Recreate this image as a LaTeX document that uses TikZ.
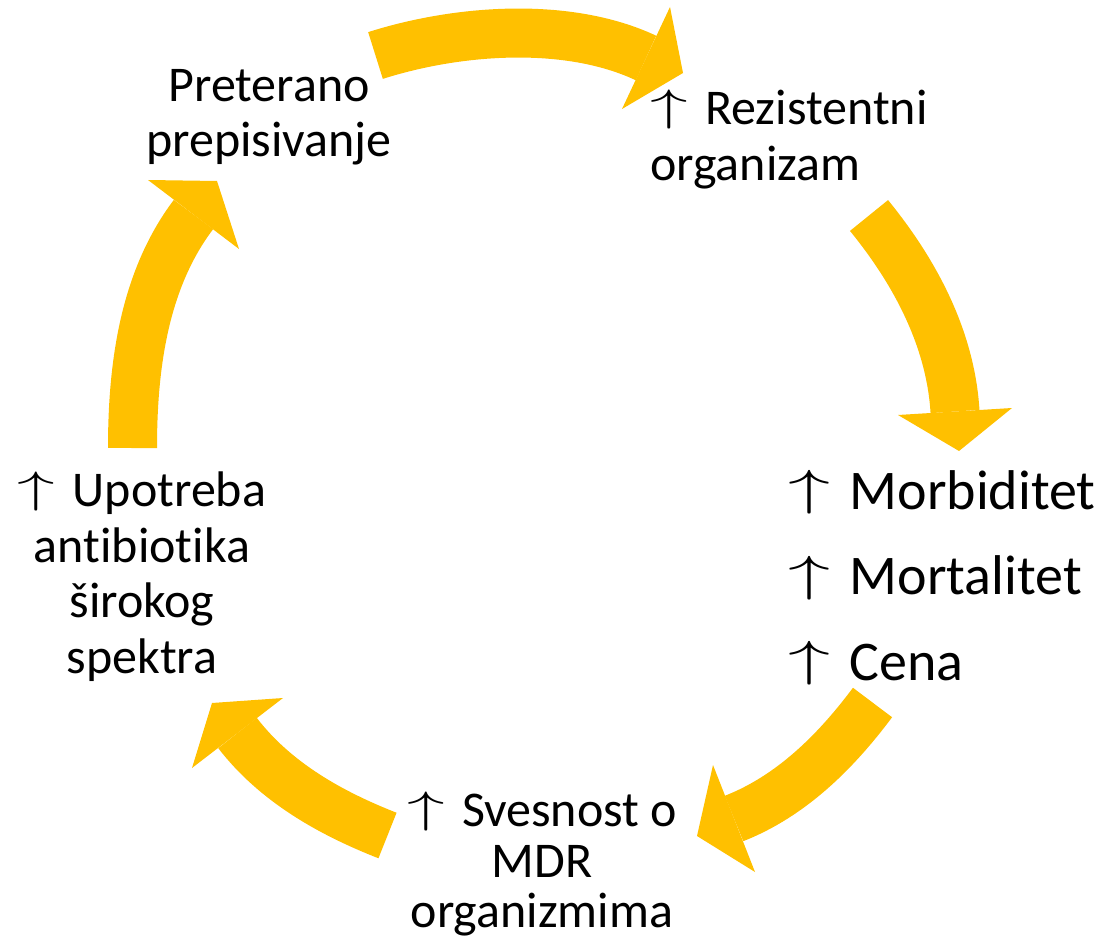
\RequirePackage{fix-cm}
\documentclass[tikz,border=0pt]{standalone}
\usepackage{graphicx}
\usepackage{fontspec}
\setmainfont{Carlito}[Ligatures=NoCommon]
\definecolor{zuta}{RGB}{255,192,0}
\newcommand{\gore}{\makebox[1.1em][l]{\raisebox{0.08em}{\scalebox{1.5}[0.88]{$\uparrow$}}}}
\tikzset{strela/.style={draw=zuta,line width=49pt},
	vrh/.style={fill=zuta},
	tekst/.style={font=\fontsize{50}{55.5}\selectfont,inner sep=0pt}}

\begin{document}
\begin{tikzpicture}[x=1pt,y=-1pt]
	\useasboundingbox (0,0) rectangle (1099,949);
	% tekst u ciklusu (base = zadnji red)
	\node[tekst,align=center,anchor=base] (prepis) at (269,157) {Preterano\\prepisivanje};
	\node[tekst,align=left,anchor=base west] (rezist) at (650,180.5) {\gore Rezistentni\\organizam};
	\node[tekst,font=\fontsize{56}{85.5}\selectfont,align=left,anchor=base west] (posled) at (788,680)
	{\gore Morbiditet\\\gore Mortalitet\\\gore Cena};
	\node[tekst,font=\fontsize{50}{50.5}\selectfont,align=center,anchor=base] (svest) at (542,927.5)
	{\gore Svesnost o\\MDR\\organizmima};
	\node[tekst,align=center,anchor=base] (upotr) at (142,673) {\gore Upotreba\\antibiotika\\širokog\\spektra};
	% krajevi strelica
	\coordinate (p1) at (375.5,55.5);  \coordinate (k1) at (646,58);
	\coordinate (p2) at (869,215.5);   \coordinate (k2) at (955,411.5);
	\coordinate (p3) at (872.5,702.5); \coordinate (k3) at (734,818.5);
	\coordinate (p4) at (387.5,835.5); \coordinate (k4) at (237.5,733);
	\coordinate (p5) at (132.5,448);   \coordinate (k5) at (193.5,214.5);
	% strelice
	\draw[strela] (p1) .. controls (458,29.2) and (567.8,21.2) .. (k1);
	\fill[vrh] (670,7) -- (683,73) -- (622,109) -- cycle;
	\draw[strela] (p2) .. controls (915.1,272) and (950.6,338.8) .. (k2);
	\fill[vrh] (898,415) -- (959,451) -- (1012,408) -- cycle;
	\draw[strela] (p3) .. controls (835.8,751.7) and (791.1,796.1) .. (k3);
	\fill[vrh] (713,765) -- (697,836) -- (755,872) -- cycle;
	\draw[strela] (p4) .. controls (330.2,813) and (275.3,782.1) .. (k4);
	\fill[vrh] (283,698) -- (212,703) -- (192,768) -- cycle;
	\draw[strela] (p5) .. controls (132.5,366) and (144,279.9) .. (k5);
	\fill[vrh] (148,180) -- (217,181) -- (239,249) -- cycle;
\end{tikzpicture}
\end{document}
